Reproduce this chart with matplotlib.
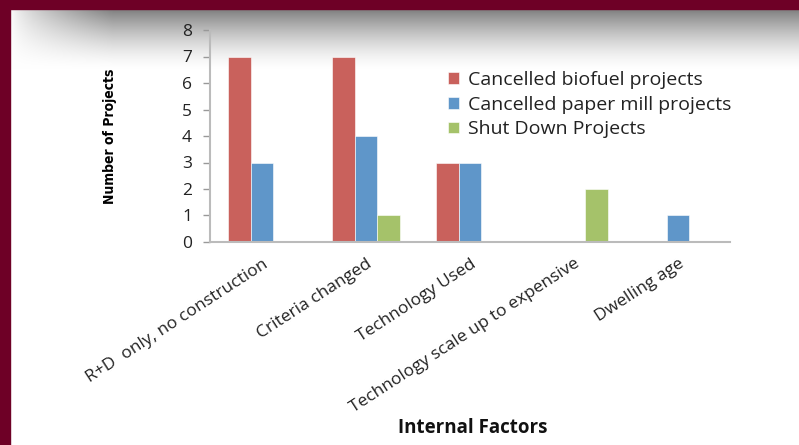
import numpy as np
import matplotlib.pyplot as plt
from matplotlib.patches import Rectangle

# data
categories = ['R+D  only, no construction', 'Criteria changed', 'Technology Used',
              'Technology scale up to expensive', 'Dwelling age']
biofuel = [7, 7, 3, 0, 0]
paper_mill = [3, 4, 3, 0, 1]
shut_down = [0, 1, 0, 2, 0]
series_names = ['Cancelled biofuel projects', 'Cancelled paper mill projects',
                'Shut Down Projects']
colors = ['#C9615C', '#5F96C9', '#A5C26A']

plt.rcParams['font.family'] = ['Open Sans', 'DejaVu Sans']

fig = plt.figure(figsize=(7.99, 4.45), dpi=100)
fig.patch.set_facecolor('white')

# maroon frame at left and top
maroon = '#6E0026'
fig.patches.append(Rectangle((0, 0), 10 / 799, 1, transform=fig.transFigure,
                             color=maroon, zorder=0))
fig.patches.append(Rectangle((0, 1 - 9 / 445), 1, 9 / 445, transform=fig.transFigure,
                             color=maroon, zorder=0))

# grey shadow under the top frame
bg = fig.add_axes([10 / 799, 1 - 70 / 445, 1 - 10 / 799, 61 / 445], zorder=-1)
h, w = 61, 789
yy = np.linspace(0, 1, h)[:, None]
xx = np.linspace(0, 1, w)[None, :]
shade = (1 - yy) ** 1.5 * np.clip(xx / 0.13, 0, 1) ** 0.7
img = np.ones((h, w, 3)) - 0.5 * shade[:, :, None]
bg.imshow(img, aspect='auto', extent=[0, 1, 0, 1])
bg.axis('off')

ax = fig.add_axes([210 / 799, 1 - 242 / 445, 520 / 799, 212 / 445])
ax.set_facecolor('none')
x = np.arange(len(categories))
width = 0.22
for i, (vals, name, c) in enumerate(zip([biofuel, paper_mill, shut_down], series_names, colors)):
    ax.bar(x + (i - 1) * width, vals, width, color=c, label=name,
           edgecolor='white', linewidth=0.4)

ax.set_xlim(-0.5, len(categories) - 0.5)
ax.set_ylim(0, 8)
ax.set_yticks(range(0, 9))
ax.tick_params(axis='y', labelsize=12.5, colors='#999999', labelcolor='#222222',
               length=5, width=1, pad=8)
ax.set_xticks(x)
ax.set_xticklabels(categories, rotation=33, ha='right', rotation_mode='anchor',
                   fontsize=12.5, color='#222222')
ax.tick_params(axis='x', length=0, pad=10)
for s in ['top', 'right']:
    ax.spines[s].set_visible(False)
for s in ['left', 'bottom']:
    ax.spines[s].set_color('#BBBBBB')
    ax.spines[s].set_linewidth(1.5)

ax.set_ylabel('Number of Projects', fontsize=10, fontweight='bold',
              fontstretch='condensed', family=['DejaVu Sans'])
ax.yaxis.set_label_coords(-93 / 520, 0.5)
fig.text(473 / 799, 1 - 428 / 445, 'Internal Factors', ha='center', va='center',
         fontsize=13.5, fontweight='bold', color='#111111')

leg = ax.legend(loc='upper left', bbox_to_anchor=(220 / 520, 0.89), frameon=False,
                fontsize=14, handlelength=0.6, handleheight=0.55,
                handletextpad=0.45, labelspacing=0.35, labelcolor='#222222')

fig.savefig('out.png', dpi=100)
